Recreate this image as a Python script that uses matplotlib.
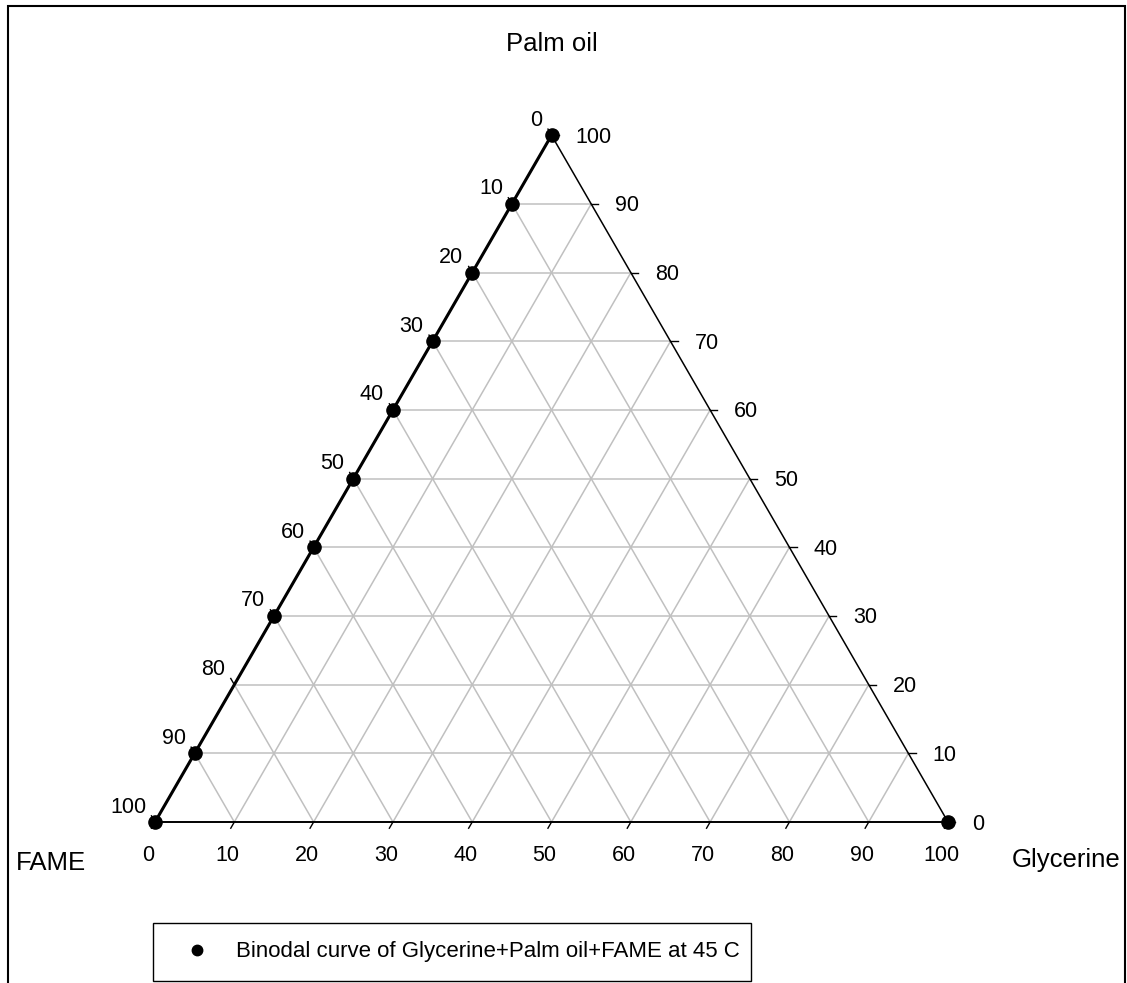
import numpy as np
import matplotlib
matplotlib.use("Agg")
import matplotlib.pyplot as plt
from matplotlib.lines import Line2D
from matplotlib.patches import Rectangle

plt.rcParams["font.family"] = ["Liberation Sans", "DejaVu Sans"]

# binodal points, mass %
glycerine = [0, 0, 0, 0, 0, 0, 0, 0, 0, 0, 100]
palm_oil = [100, 90, 80, 70, 60, 50, 40, 30, 10, 0, 0]
curve_glycerine = [0, 0, 0, 0, 0, 0, 0, 0, 0, 0]
curve_palm_oil = [100, 90, 80, 70, 60, 50, 40, 30, 10, 0]

grid_values = [10, 20, 30, 40, 50, 60, 70, 80, 90]
tick_values = [0, 10, 20, 30, 40, 50, 60, 70, 80, 90, 100]
series_label = "Binodal curve of Glycerine+Palm oil+FAME at 45 C"

H = np.sqrt(3) / 2


def to_xy(g, p):
    g = np.asarray(g, dtype=float)
    p = np.asarray(p, dtype=float)
    return g + p / 2, p * H


fig = plt.figure(figsize=(11.27, 9.83), dpi=100)
ax = fig.add_axes([0, 0, 1, 1])
ax.set_xlim(-19.55, 122.57)
ax.set_ylim(-20.30, 103.66)
ax.axis("off")

# grid
grid_kw = dict(color="#c0c0c0", lw=1.1, zorder=1)
for k in grid_values:
    x, y = to_xy([0, 100 - k], [k, k])
    ax.plot(x, y, **grid_kw)
    x, y = to_xy([k, k], [0, 100 - k])
    ax.plot(x, y, **grid_kw)
    x, y = to_xy([100 - k, 0], [0, 100 - k])
    ax.plot(x, y, **grid_kw)

# triangle edges
x, y = to_xy([0, 100], [0, 0])
ax.plot(x, y, color="black", lw=1.4, zorder=2)
x, y = to_xy([100, 0], [0, 100])
ax.plot(x, y, color="black", lw=1.1, zorder=2)
x, y = to_xy([0, 0], [0, 100])
ax.plot(x, y, color="black", lw=1.1, zorder=2)

# ticks and tick labels
tl = 0.9
fs = 15.5
for k in tick_values:
    # FAME (left edge)
    x, y = to_xy(0, 100 - k)
    ax.plot([x, x - 0.5 * tl], [y, y + H * tl], color="black", lw=1.0, zorder=2)
    ax.annotate(str(k), (x, y), xytext=(-9, 15), textcoords="offset pixels",
                ha="right", va="center", fontsize=fs)
    # Glycerine (bottom edge)
    x, y = to_xy(k, 0)
    ax.plot([x, x - 0.5 * tl], [y, y - H * tl], color="black", lw=1.0, zorder=2)
    ax.annotate(str(k), (x, y), xytext=(-7, -39), textcoords="offset pixels",
                ha="center", va="baseline", fontsize=fs)
    # Palm oil (right edge)
    x, y = to_xy(100 - k, k)
    ax.plot([x, x + tl], [y, y], color="black", lw=1.0, zorder=2)
    ax.annotate(str(k), (x, y), xytext=(24, -2), textcoords="offset pixels",
                ha="left", va="center", fontsize=fs)

# corner names
ax.annotate("Palm oil", to_xy(0, 100), xytext=(0, 84), textcoords="offset pixels",
            ha="center", va="baseline", fontsize=18.5)
ax.annotate("FAME", to_xy(0, 0), xytext=(-139, -48), textcoords="offset pixels",
            ha="left", va="baseline", fontsize=18.5)
ax.annotate("Glycerine", to_xy(100, 0), xytext=(64, -45), textcoords="offset pixels",
            ha="left", va="baseline", fontsize=18.5)

# data
x, y = to_xy(curve_glycerine, curve_palm_oil)
ax.plot(x, y, color="black", lw=2.2, zorder=3)
x, y = to_xy(glycerine, palm_oil)
ax.plot(x, y, "o", color="black", ms=9.5, zorder=4)

handle = Line2D([], [], ls="none", marker="o", color="black", ms=7.5)
leg = ax.legend([handle], [series_label], loc="upper left",
                bbox_to_anchor=(153 / 1127, 0, 598 / 1127, 1 - 923 / 983),
                bbox_transform=fig.transFigure, mode="expand",
                fontsize=16, frameon=True, fancybox=False, framealpha=1,
                edgecolor="black", borderpad=0.83, borderaxespad=0,
                handlelength=2.3, handletextpad=0.6)
leg.get_frame().set_linewidth(1.0)

# outer frame
fig.add_artist(Rectangle((7.5 / 1127, -0.05), (1125 - 7.5) / 1127, 1.05 - 5.5 / 983,
                         transform=fig.transFigure, fill=False,
                         edgecolor="black", lw=1.5))

fig.savefig("out.png", dpi=100)
